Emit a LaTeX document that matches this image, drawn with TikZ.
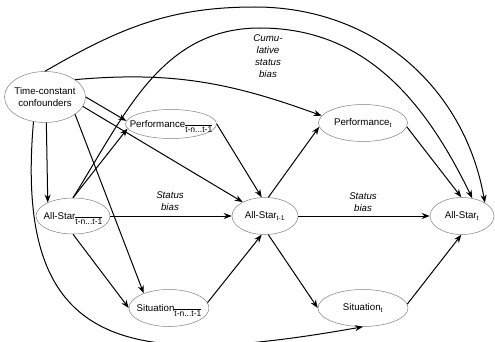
\documentclass[tikz,border=0pt]{standalone}
\usepackage{fontspec}
\setmainfont{Liberation Sans}
\usetikzlibrary{positioning}
\usetikzlibrary{shapes.geometric}
\usetikzlibrary{arrows.meta}

\newcommand{\olsub}[1]{\raisebox{-5pt}[\height][0pt]{\fontsize{8.5}{9}\selectfont$\overline{\mbox{#1}}$}}

\begin{document}
\begin{tikzpicture}[x=1pt, y=-1pt, varbox/.style={
			draw=gray,
			ellipse,
			line width=0.5pt,
			inner sep=-20pt,
			minimum height=37pt,
			font=\fontsize{9.7}{11.5}\selectfont,
		}, effect/.style={-{Stealth[length=8pt,width=6pt,inset=2.5pt]}, line width=1pt},
		bias/.style={font=\fontsize{9.7}{12}\selectfont\itshape, align=center}]
		\useasboundingbox (0,0) rectangle (495,342);
		
		\node[varbox, minimum width=81pt, minimum height=51pt, align=center] (conf) at (45,97) {Time-constant\\confounders};
		\node[varbox, minimum width=91pt, minimum height=29pt] (perfA) at (171,124) {Performance\olsub{t-n...t-1}};
		\node[varbox, minimum width=74pt, minimum height=36pt] (asA) at (73,216) {All-Star\olsub{t-n...t-1}};
		\node[varbox, minimum width=80pt] (sitA) at (169,308) {Situation\olsub{t-n...t-1}};
		\node[varbox, minimum width=66pt] (asB) at (265,216) {All-Star\textsubscript{t-1}};
		\node[varbox, minimum width=89pt] (perfT) at (363,123) {Performance\textsubscript{t}};
		\node[varbox, minimum width=90pt] (sitT) at (363,308) {Situation\textsubscript{t}};
		\node[varbox, minimum width=64pt] (asT) at (462,216) {All-Star\textsubscript{t}};
		
		\coordinate (peakOuter) at (255,7);
		\coordinate (peakInner) at (260,28);
		
		% confounders
		\draw[effect] (conf.east) -- (perfA.176);
		\draw[effect] (conf.-14) -- (asB.148);
		\draw[effect] (conf.-87) -- (asA.152);
		\draw[effect] (conf.-30) -- (sitA.150);
		\draw[effect] (conf.30) to[out=5,in=160] (perfT.170);
		\draw[effect] (conf.north) to[out=30,in=180] (peakOuter) to[out=0,in=100] (asT.30);
		\draw[effect] (conf.-115) to[out=-95,in=190,looseness=1.55] (sitT.south);
		
		% past
		\draw[effect] (asA.north) -- (perfA.186);
		\draw[effect] (asA.north) to[out=58,in=180] (peakInner) to[out=0,in=116] (asT.60);
		\draw[effect] (asA) -- (asB);
		\draw[effect] (asA.south) -- (sitA.west);
		\draw[effect] (perfA.east) -- (asB.100);
		\draw[effect] (sitA.8) -- (asB.-100);
		
		% present
		\draw[effect] (asB.80) -- (perfT.185);
		\draw[effect] (asB.-80) -- (sitT.west);
		\draw[effect] (asB) -- (asT);
		\draw[effect] (perfT.-5) -- (asT.92);
		\draw[effect] (sitT.5) -- (asT.-92);
		
		\node[bias] (biasA) at (170,201) {Status\\bias};
		\node[bias] (biasB) at (363,202) {Status\\bias};
		\node[bias] (biasCum) at (268,56) {Cumu-\\lative\\status\\bias};
	\end{tikzpicture}
\end{document}
